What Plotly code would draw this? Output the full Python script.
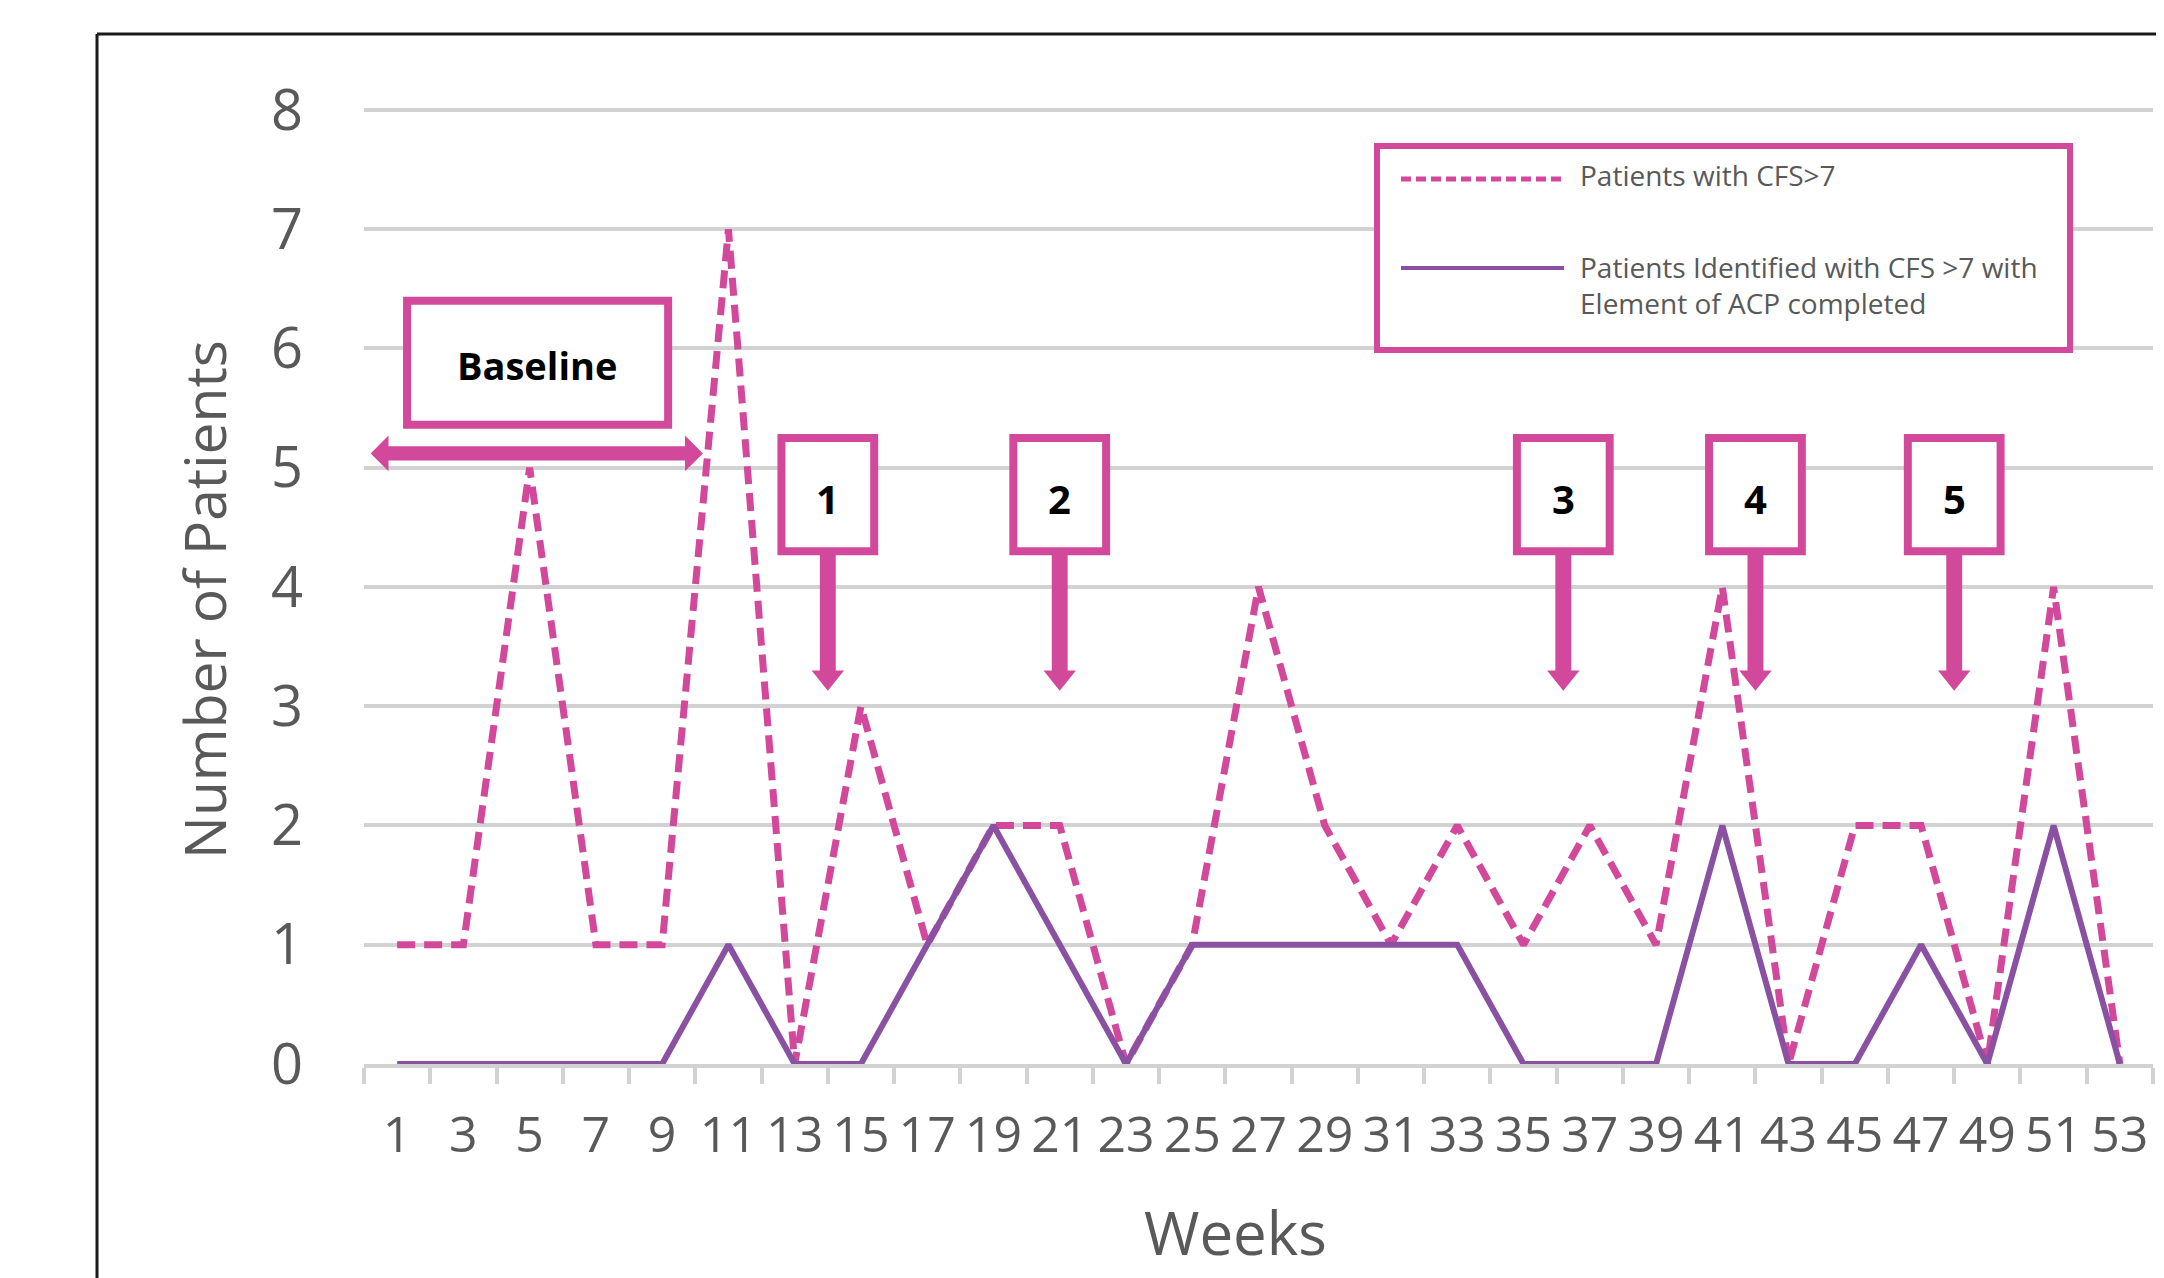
import plotly.graph_objects as go

# ---------------- data ----------------
weeks = list(range(1, 54, 2))
cfs_gt7 = [1, 1, 5, 1, 1, 7, 0, 3, 1, 2, 2, 0, 1, 4, 2, 1, 2, 1, 2, 1, 4, 0, 2, 2, 0, 4, 0]
acp_completed = [0, 0, 0, 0, 0, 1, 0, 0, 1, 2, 1, 0, 1, 1, 1, 1, 1, 0, 0, 0, 2, 0, 0, 1, 0, 2, 0]
series_names = ["Patients with CFS>7",
                "Patients Identified with CFS >7 with<br>Element of ACP completed"]
intervention_labels = ["1", "2", "3", "4", "5"]
intervention_weeks = [14, 21, 36.2, 42, 48]
baseline_label = "Baseline"
x_title = "Weeks"
y_title = "Number of Patients"
y_ticks = list(range(0, 9))

# ---------------- style ----------------
OFF = 8                       # page body margin of the html page
W, H = 2164 - OFF, 1278 - OFF
ML, MR, MT, MB = 356, 11, 96, 214
YMAX = 8.05
PINK = "#D2499B"
PURPLE = "#8A51A3"
GRID = "#D2D2D2"
TEXT = "#595959"
FONT = "Open Sans"

PW = W - ML - MR
PH = H - MT - MB


def xp(px):
    """screen pixel x -> paper coordinate"""
    return (px - OFF - ML) / PW


def yp(py):
    """screen pixel y -> paper coordinate"""
    return (H - MB - (py - OFF)) / PH


fig = go.Figure()
fig.add_trace(go.Scatter(x=weeks, y=cfs_gt7, mode="lines", name=series_names[0],
                         line=dict(color=PINK, width=7, dash="18px,9px"), showlegend=False))
fig.add_trace(go.Scatter(x=weeks, y=acp_completed, mode="lines", name=series_names[1],
                         line=dict(color=PURPLE, width=6), showlegend=False))

shapes = []
annotations = []

# outer frame (left + top edges)
shapes.append(dict(type="line", xref="paper", yref="paper", x0=xp(97), x1=xp(2200),
                   y0=yp(34), y1=yp(34), line=dict(color="#1a1a1a", width=3), layer="above"))
shapes.append(dict(type="line", xref="paper", yref="paper", x0=xp(97), x1=xp(97),
                   y0=yp(34), y1=yp(1300), line=dict(color="#1a1a1a", width=3), layer="above"))

# intervention boxes with arrows
bx_half = 1.40
by0, by1 = 4.30, 5.25
shaft_hw, head_hw = 0.24, 0.49
head_base, tip = 3.30, 3.13
for lab, wk in zip(intervention_labels, intervention_weeks):
    path = (f"M {wk - shaft_hw},{by0} L {wk + shaft_hw},{by0} L {wk + shaft_hw},{head_base} "
            f"L {wk + head_hw},{head_base} L {wk},{tip} L {wk - head_hw},{head_base} "
            f"L {wk - shaft_hw},{head_base} Z")
    shapes.append(dict(type="path", xref="x", yref="y", path=path, fillcolor=PINK,
                       line=dict(width=0), layer="above"))
    shapes.append(dict(type="rect", xref="x", yref="y", x0=wk - bx_half, x1=wk + bx_half,
                       y0=by0, y1=by1, fillcolor="white", line=dict(color=PINK, width=8),
                       layer="above"))
    annotations.append(dict(x=wk, y=(by0 + by1) / 2 - 0.03, xref="x", yref="y",
                            text=f"<b>{lab}</b>", showarrow=False,
                            font=dict(family=FONT, size=40, color="black")))

# baseline box and double arrow
shapes.append(dict(type="rect", xref="x", yref="y", x0=1.30, x1=9.18, y0=5.36, y1=6.40,
                   fillcolor="white", line=dict(color=PINK, width=8), layer="above"))
annotations.append(dict(x=5.22, y=5.86, xref="x", yref="y", text=f"<b>{baseline_label}</b>",
                        showarrow=False, font=dict(family=FONT, size=38, color="black")))
x0a, x1a, yc = 0.2, 10.23, 5.12
hl, hh, hw = 0.54, 0.15, 0.06
dpath = (f"M {x0a},{yc} L {x0a + hl},{yc + hh} L {x0a + hl},{yc + hw} L {x1a - hl},{yc + hw} "
         f"L {x1a - hl},{yc + hh} L {x1a},{yc} L {x1a - hl},{yc - hh} L {x1a - hl},{yc - hw} "
         f"L {x0a + hl},{yc - hw} L {x0a + hl},{yc - hh} Z")
shapes.append(dict(type="path", xref="x", yref="y", path=dpath, fillcolor=PINK,
                   line=dict(width=0), layer="above"))

# legend box (drawn manually)
shapes.append(dict(type="rect", xref="paper", yref="paper", x0=xp(1377), x1=xp(2070),
                   y0=yp(350), y1=yp(146), fillcolor="white", line=dict(color=PINK, width=6),
                   layer="above"))
shapes.append(dict(type="line", xref="paper", yref="paper", x0=xp(1401), x1=xp(1564),
                   y0=yp(179), y1=yp(179), line=dict(color=PINK, width=5, dash="10px,5px"),
                   layer="above"))
shapes.append(dict(type="line", xref="paper", yref="paper", x0=xp(1401), x1=xp(1564),
                   y0=yp(268), y1=yp(268), line=dict(color=PURPLE, width=4), layer="above"))
annotations.append(dict(x=xp(1578), y=yp(175), xref="paper", yref="paper", text=series_names[0],
                        showarrow=False, xanchor="left", yanchor="middle", align="left",
                        font=dict(family=FONT, size=28, color=TEXT)))
annotations.append(dict(x=xp(1578), y=yp(285), xref="paper", yref="paper", text=series_names[1],
                        showarrow=False, xanchor="left", yanchor="middle", align="left",
                        font=dict(family=FONT, size=28, color=TEXT)))

# axis titles
annotations.append(dict(x=xp(1235), y=yp(1232), xref="paper", yref="paper", text=x_title,
                        showarrow=False, xanchor="center", yanchor="middle",
                        font=dict(family=FONT, size=60, color=TEXT)))
annotations.append(dict(x=xp(204), y=yp(600), xref="paper", yref="paper", text=y_title,
                        showarrow=False, xanchor="center", yanchor="middle", textangle=-90,
                        font=dict(family=FONT, size=57, color=TEXT)))

fig.update_layout(
    template="none",
    width=W, height=H,
    margin=dict(l=ML, r=MR, t=MT, b=MB, pad=0),
    paper_bgcolor="white", plot_bgcolor="white",
    shapes=shapes, annotations=annotations,
    showlegend=False,
    font=dict(family=FONT, color=TEXT),
)
fig.update_xaxes(
    range=[0, 54], tickmode="array", tickvals=weeks, ticktext=[str(w) for w in weeks],
    ticks="", showgrid=False, zeroline=False, showline=True, linecolor=GRID, linewidth=4,
    tickfont=dict(family=FONT, size=50, color=TEXT), ticklabelstandoff=24,
    minor=dict(tickmode="linear", tick0=0, dtick=2, ticks="outside", ticklen=16,
               tickwidth=4, tickcolor=GRID, showgrid=False),
    automargin=False, fixedrange=True,
)
fig.update_yaxes(
    range=[0, YMAX], tickmode="array", tickvals=y_ticks, ticks="", showgrid=True,
    gridcolor=GRID, gridwidth=4, zeroline=False, showline=False,
    tickfont=dict(family=FONT, size=56, color=TEXT), ticklabelstandoff=60,
    automargin=False, fixedrange=True,
)

fig.write_html("out.html")
